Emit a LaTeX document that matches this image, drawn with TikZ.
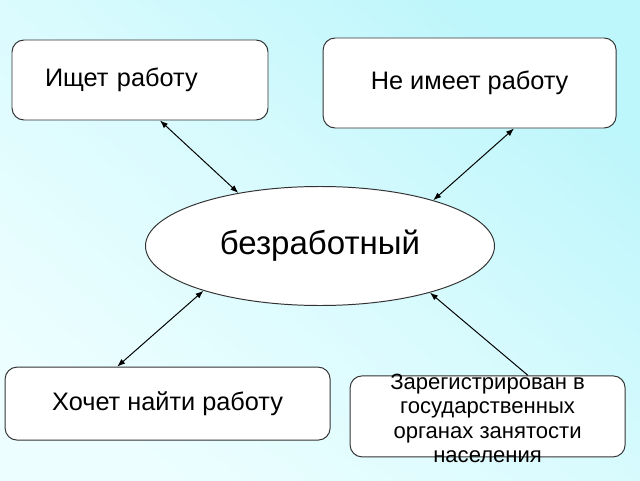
\documentclass[tikz,border=0pt]{standalone}
\usepackage{fontspec}
\setmainfont{Liberation Sans}
\usetikzlibrary{shapes.geometric, arrows.meta}
\definecolor{bgdark}{HTML}{BDF6FB}
\definecolor{bglight}{HTML}{ECFEFF}

\begin{document}
\begin{tikzpicture}[
    box/.style={draw=black!80, fill=white, rounded corners=0.3cm, line width=0.7pt, font=\fontsize{18}{22}\selectfont},
    oval/.style={ellipse, draw=black!80, fill=white, line width=0.7pt, minimum width=8.725cm, minimum height=2.975cm, font=\fontsize{23.5}{28}\selectfont},
    link/.style={line width=0.7pt, >={Latex[length=2mm,width=1.5mm]}}]
    \shade[top color=bgdark, bottom color=bglight, middle color=bgdark!40!bglight, shading angle=-40] (0,0) rectangle (16,12);

    \node[oval] (jobless) at (8,5.85) {безработный};
    \node[box, text width=4.75cm, inner xsep=0.825cm, minimum height=2cm, align=left] (seeks) at (3.5,10) {Ищет работу};
    \node[box, minimum width=7.325cm, minimum height=2.25cm] (lacks) at (11.74,9.925) {Не имеет работу};
    \node[box, minimum width=8.125cm, minimum height=1.825cm] (wants) at (4.19,1.91) {Хочет найти работу};
    \node[box, minimum width=6.875cm, minimum height=2.025cm,
        label={[align=center, font=\fontsize{15.7}{17.4}\selectfont, yshift=-0.05cm]center:Зарегистрирован в\\государственных\\органах занятости\\населения}] (registered) at (12.19,1.59) {};

    \draw[link]
        ([xshift=0.5cm]seeks.south) edge[<->] (jobless.147)
        ([xshift=1.11cm]lacks.south) edge[<->] (jobless.22)
        (jobless.201) edge[<->] ([xshift=-1.26cm]wants.north)
        (jobless.337) edge[<-] ([xshift=1.01cm]registered.north)
        ;
\end{tikzpicture}
\end{document}
